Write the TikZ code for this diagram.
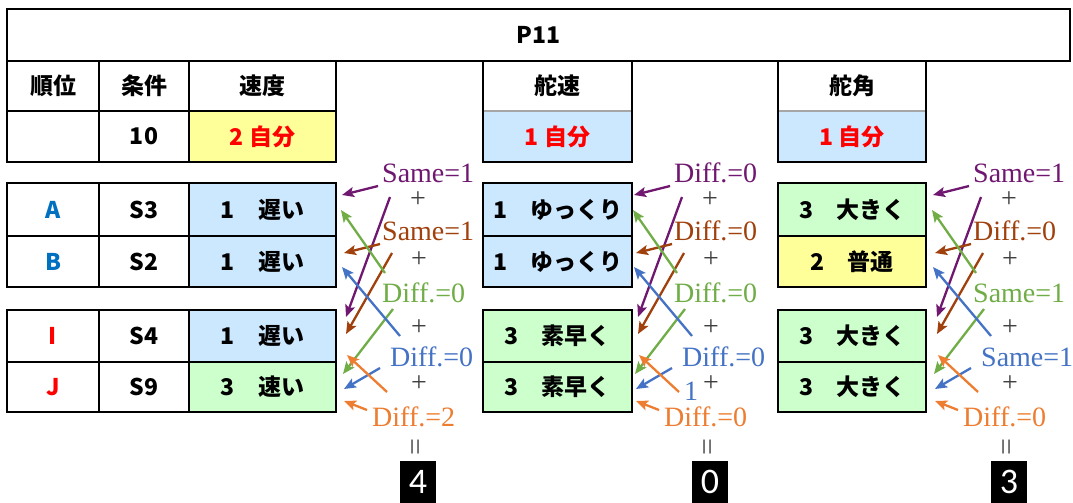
\documentclass[tikz,border=0pt]{standalone}
\usepackage{fontspec}
\newfontfamily\jp{Noto Sans CJK JP}
\newfontfamily\tms{Liberation Serif}
\newfontfamily\numfont{Carlito}
\usetikzlibrary{arrows.meta}
\definecolor{cblue}{HTML}{CCE8FF}
\definecolor{cyel}{HTML}{FFFF99}
\definecolor{cgrn}{HTML}{CCFFCC}
\definecolor{tred}{HTML}{FF0000}
\definecolor{tblue}{HTML}{0070C0}
\definecolor{apur}{RGB}{112,24,112}
\definecolor{abrn}{RGB}{160,65,13}
\definecolor{agrn}{HTML}{70AD47}
\definecolor{ablu}{HTML}{4472C4}
\definecolor{aorg}{HTML}{ED7D31}
\tikzset{
  cell/.style={draw=black, line width=2.6pt, inner sep=0pt,
    font=\jp\bfseries\fontsize{23}{27}\selectfont, text=black},
  lab/.style={inner sep=0pt, anchor=west, font=\tms\fontsize{28}{30}\selectfont},
  plus/.style={inner sep=0pt, font=\tms\fontsize{28}{30}\selectfont, text=black!75},
  eqv/.style={inner sep=0pt, rotate=90, font=\tms\fontsize{30}{32}\selectfont, text=black!70},
  numbox/.style={fill=black, text=white, inner sep=0pt, minimum width=36pt, minimum height=42pt,
    font=\numfont\fontsize{36}{38}\selectfont},
  arr/.style={line width=2.3pt, -{Stealth[length=12pt,width=10pt,inset=2.5pt]}},
}
\newcommand\mkcell[7]{\node[cell, fill=#6, minimum width={#4-#2}, minimum height={#5-#3}] (#1) at ({(#2+#4)/2},{(#3+#5)/2}) {#7};}
% #1 shift, #2 prefix, #3 purple, #4 brown, #5 green, #6 blue, #7 orange
\newcommand\arrset[7]{%
\begin{scope}[xshift=#1pt]
  \coordinate (#2pt1) at (378,186); \coordinate (#2ph1) at (342,195);
  \coordinate (#2pt2) at (390,197); \coordinate (#2ph2) at (346,317);
  \coordinate (#2bt1) at (380,244); \coordinate (#2bh1) at (344,253);
  \coordinate (#2bt2) at (392,253); \coordinate (#2bh2) at (346,334);
  \coordinate (#2gt1) at (385,273); \coordinate (#2gh1) at (341,210);
  \coordinate (#2gt2) at (393,309); \coordinate (#2gh2) at (343,374);
  \coordinate (#2ut1) at (400,336); \coordinate (#2uh1) at (342,267);
  \coordinate (#2ut2) at (380,368); \coordinate (#2uh2) at (344,389);
  \coordinate (#2ot1) at (387,392); \coordinate (#2oh1) at (347,355);
  \coordinate (#2ot2) at (367,410); \coordinate (#2oh2) at (344,401);
  \draw[arr, apur] (#2pt1) -- (#2ph1);
  \draw[arr, apur] (#2pt2) -- (#2ph2);
  \draw[arr, abrn] (#2bt1) -- (#2bh1);
  \draw[arr, abrn] (#2bt2) -- (#2bh2);
  \draw[arr, agrn] (#2gt1) -- (#2gh1);
  \draw[arr, agrn] (#2gt2) -- (#2gh2);
  \draw[arr, ablu] (#2ut1) -- (#2uh1);
  \draw[arr, ablu] (#2ut2) -- (#2uh2);
  \draw[arr, aorg] (#2ot1) -- (#2oh1);
  \draw[arr, aorg] (#2ot2) -- (#2oh2);
  \node[lab, text=apur] (#2lp) at (382,173) {#3};
  \node[lab, text=abrn] (#2lb) at (382,231) {#4};
  \node[lab, text=agrn] (#2lg) at (382,293) {#5};
  \node[lab, text=ablu] (#2lu) at (390,357) {#6};
  \node[lab, text=aorg] (#2lo) at (372,417) {#7};
  \node[plus] (#2s1) at (418,200) {+};
  \node[plus] (#2s2) at (419,260) {+};
  \node[plus] (#2s3) at (419,328) {+};
  \node[plus] (#2s4) at (419,384) {+};
  \node[eqv] (#2eq) at (419,447) {=};
\end{scope}}
\newcommand\sep[2]{%
  \fill[white] ({#1+1.3},109.7) rectangle ({#2-1.3},111);
  \fill[cblue] ({#1+1.3},111) rectangle ({#2-1.3},112.3);
  \draw[black!35, line width=1.4pt] ({#1+1.3},111) -- ({#2-1.3},111);}
\begin{document}
\begin{tikzpicture}[x=1pt,y=-1pt]
\useasboundingbox (0,0) rectangle (1073,503);
\fill[white] (0,0) rectangle (1073,503);
% title
\node[cell, minimum width=1063pt, minimum height=52pt] (title) at (538.5,35) {P11};
% header
\mkcell{h1}{7}{61}{99}{111}{white}{順位}
\mkcell{h2}{99}{61}{189}{111}{white}{条件}
\mkcell{h3}{189}{61}{336}{111}{white}{速度}
\mkcell{h4}{483}{61}{632}{111}{white}{舵速}
\mkcell{h5}{778}{61}{926}{111}{white}{舵角}
% second row
\mkcell{r1}{7}{111}{99}{162}{white}{}
\mkcell{r2}{99}{111}{189}{162}{white}{10}
\mkcell{r3}{189}{111}{336}{162}{cyel}{\textcolor{tred}{2 自分}}
\mkcell{r4}{483}{111}{632}{162}{cblue}{\textcolor{tred}{1 自分}}
\mkcell{r5}{778}{111}{926}{162}{cblue}{\textcolor{tred}{1 自分}}
\sep{483}{632}
\sep{778}{926}
% A
\mkcell{a1}{7}{183}{99}{236}{white}{\textcolor{tblue}{A}}
\mkcell{a2}{99}{183}{189}{236}{white}{S3}
\mkcell{a3}{189}{183}{336}{236}{cblue}{1　遅い}
\mkcell{a4}{483}{183}{632}{236}{cblue}{1　ゆっくり}
\mkcell{a5}{778}{183}{926}{236}{cgrn}{3　大きく}
% B
\mkcell{b1}{7}{236}{99}{287}{white}{\textcolor{tblue}{B}}
\mkcell{b2}{99}{236}{189}{287}{white}{S2}
\mkcell{b3}{189}{236}{336}{287}{cblue}{1　遅い}
\mkcell{b4}{483}{236}{632}{287}{cblue}{1　ゆっくり}
\mkcell{b5}{778}{236}{926}{287}{cyel}{2　普通}
% I
\mkcell{i1}{7}{310}{99}{362}{white}{\textcolor{tred}{I}}
\mkcell{i2}{99}{310}{189}{362}{white}{S4}
\mkcell{i3}{189}{310}{336}{362}{cblue}{1　遅い}
\mkcell{i4}{483}{310}{632}{362}{cgrn}{3　素早く}
\mkcell{i5}{778}{310}{926}{362}{cgrn}{3　大きく}
% J
\mkcell{j1}{7}{362}{99}{412}{white}{\textcolor{tred}{J}}
\mkcell{j2}{99}{362}{189}{412}{white}{S9}
\mkcell{j3}{189}{362}{336}{412}{cgrn}{3　速い}
\mkcell{j4}{483}{362}{632}{412}{cgrn}{3　素早く}
\mkcell{j5}{778}{362}{926}{412}{cgrn}{3　大きく}
% arrows and labels
\arrset{0}{x}{Same=1}{Same=1}{Diff.=0}{Diff.=0}{Diff.=2}
\arrset{292}{y}{Diff.=0}{Diff.=0}{Diff.=0}{Diff.=0}{Diff.=0}
\arrset{591}{z}{Same=1}{Diff.=0}{Same=1}{Same=1}{Diff.=0}
\node[lab, text=ablu] (yextra) at (684,391) {1};
% result boxes
\node[numbox] (n1) at (418,482) {4};
\node[numbox] (n2) at (710,482) {0};
\node[numbox] (n3) at (1009,482) {3};
\end{tikzpicture}
\end{document}
